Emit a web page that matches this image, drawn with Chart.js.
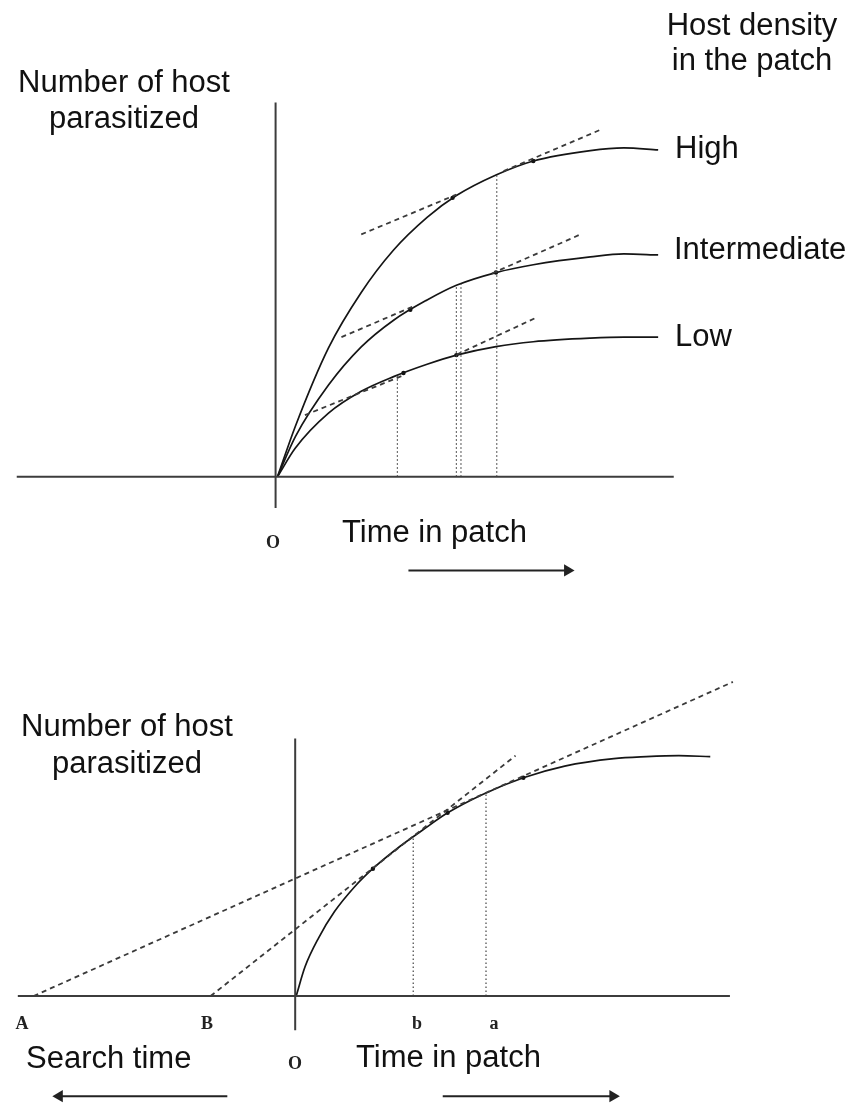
<!DOCTYPE html>
<html>
<head>
<meta charset="utf-8">
<script src="https://cdn.jsdelivr.net/npm/chart.js@4.4.1/dist/chart.umd.min.js"></script>
<style>
  body { margin: 0; background: #fff; }
  #page { position: relative; width: 853px; height: 1112px; overflow: hidden; background: #fff; }
  canvas { position: absolute; left: 0; }
  .lbl { position: absolute; font-family: "Liberation Sans", Arial, sans-serif; font-size: 31px; line-height: 36px; color: #111; white-space: nowrap; }
  .ser { position: absolute; font-family: "Liberation Serif", "Times New Roman", serif; font-weight: bold; font-size: 18px; line-height: 20px; color: #222; white-space: nowrap; }
</style>
</head>
<body>
<div id="page">
  <canvas id="topChart" width="853" height="600" style="top:0"></canvas>
  <canvas id="bottomChart" width="853" height="512" style="top:600px"></canvas>
</div>
<script>
// ---- top panel: parasitized hosts vs time in patch, three host densities ----
const timeTop = [0, 0.47, 1.34, 2.20, 3.05, 3.93, 4.70, 5.74, 6.72, 8.22, 9.10, 10.0];
const highDensity = [0, 1.55, 3.95, 5.65, 6.95, 7.95, 8.62, 9.25, 9.68, 10.0, 10.08, 10.02];
const intermediateDensity = [0, 1.23, 2.81, 3.98, 4.80, 5.42, 5.87, 6.26, 6.50, 6.74, 6.83, 6.80];
const lowDensity = [0, 0.88, 1.95, 2.62, 3.07, 3.45, 3.73, 3.99, 4.14, 4.25, 4.28, 4.28];
const densityNames = ['High', 'Intermediate', 'Low'];

// tangent segments [x0, y0, x1, y1]
const tangentsTop = [
    [2.20, 7.43, 4.70, 8.65],
    [5.94, 9.37, 8.53, 10.66],
    [1.68, 4.28, 3.54, 5.21],
    [5.63, 6.23, 7.96, 7.43],
    [0.72, 1.89, 3.31, 3.11],
    [4.70, 3.74, 6.80, 4.88]
];
// leaving times (dotted drops to the axis) [x, y on curve]
const leaveTop = [[3.15, 3.10], [4.70, 5.87], [4.82, 5.92], [5.76, 9.25]];
const touchTop = [[4.60, 8.55], [6.72, 9.68], [3.49, 5.12], [5.74, 6.26], [3.31, 3.18], [4.70, 3.73]];

// ---- bottom panel: single gain curve with search-time lines ----
const timeBottom = [0, 0.225, 0.575, 0.975, 1.475, 1.975, 2.65, 3.225, 3.85, 4.725, 5.775, 6.825, 8.075, 8.9, 9.725, 10.525];
const gainBottom = [0, 0.90, 1.80, 2.60, 3.35, 3.95, 4.62, 5.12, 5.64, 6.20, 6.72, 7.08, 7.31, 7.37, 7.40, 7.37];
const searchLines = [
    [-6.675, 0, 11.1, 9.67],   // from A
    [-2.175, 0, 5.575, 7.40]   // from B
];
const leaveBottom = [[2.975, 4.92], [4.825, 6.25]]; // b, a
const touchBottom = [[1.95, 3.92], [3.85, 5.64], [5.775, 6.72]];

function pts(xs, ys) {
    return xs.map((x, i) => ({ x: x, y: ys[i] }));
}

function curve(xs, ys) {
    return {
        data: pts(xs, ys),
        showLine: true,
        borderColor: '#151515',
        borderWidth: 1.7,
        pointRadius: 0,
        cubicInterpolationMode: 'monotone'
    };
}

function seg(s, style) {
    return Object.assign({
        data: [{ x: s[0], y: s[1] }, { x: s[2], y: s[3] }],
        showLine: true,
        borderColor: '#333',
        borderWidth: 2,
        pointRadius: 0
    }, style || {});
}

const dashed = { borderDash: [5, 4], borderColor: '#3a3a3a', borderWidth: 1.8 };
const dotted = { borderDash: [1.5, 2.5], borderColor: '#444', borderWidth: 1.2 };
const axisStyle = { borderColor: '#3c3c3c', borderWidth: 2 };

function dots(list) {
    return {
        data: list.map(p => ({ x: p[0], y: p[1] })),
        pointRadius: 2.2,
        pointBackgroundColor: '#111',
        pointBorderWidth: 0,
        showLine: false
    };
}

// arrow: line with a triangle head at the second point
function arrow(x0, x1, y, dir) {
    return {
        data: [{ x: x0, y: y }, { x: x1, y: y }],
        showLine: true,
        borderColor: '#222',
        borderWidth: 2,
        pointRadius: [0, 7],
        pointStyle: 'triangle',
        pointRotation: dir > 0 ? 90 : -90,
        pointBackgroundColor: '#222',
        pointBorderWidth: 0
    };
}

function makeChart(id, bounds, datasets) {
    return new Chart(document.getElementById(id), {
        type: 'scatter',
        data: { datasets: datasets },
        options: {
            responsive: false,
            animation: false,
            devicePixelRatio: 1,
            events: [],
            layout: { padding: 0 },
            plugins: { legend: { display: false }, tooltip: { enabled: false } },
            scales: {
                x: { type: 'linear', display: false, min: bounds[0], max: bounds[1] },
                y: { type: 'linear', display: false, min: bounds[2], max: bounds[3] }
            }
        }
    });
}

// top chart
const topSets = [
    seg([-6.85, 0, 10.41, 0], axisStyle),
    seg([-0.05, -0.96, -0.05, 11.47], axisStyle)
];
leaveTop.forEach(p => topSets.push(seg([p[0], 0, p[0], p[1]], dotted)));
tangentsTop.forEach(t => topSets.push(seg(t, dashed)));
topSets.push(curve(timeTop, highDensity));
topSets.push(curve(timeTop, intermediateDensity));
topSets.push(curve(timeTop, lowDensity));
topSets.push(dots(touchTop));
topSets.push(arrow(3.44, 7.62, -2.87, 1));
makeChart('topChart', [-7.106, 14.935, -3.563, 14.401], topSets);

// bottom chart
const bottomSets = [
    seg([-7.075, 0, 11.025, 0], axisStyle),
    seg([-0.025, -1.05, -0.025, 7.93], axisStyle)
];
leaveBottom.forEach(p => bottomSets.push(seg([p[0], 0, p[0], p[1]], dotted)));
searchLines.forEach(s => bottomSets.push(seg(s, dashed)));
bottomSets.push(curve(timeBottom, gainBottom));
bottomSets.push(dots(touchBottom));
bottomSets.push(arrow(-1.75, -6.02, -3.08, -1));
bottomSets.push(arrow(3.725, 8.05, -3.08, 1));
makeChart('bottomChart', [-7.35, 13.975, -3.353, 11.976], bottomSets);

// text labels
const page = document.getElementById('page');
function label(text, x, y, cls, align) {
    const d = document.createElement('div');
    d.className = cls;
    d.textContent = text;
    d.style.left = x + 'px';
    d.style.top = y + 'px';
    d.style.transform = align === 'left' ? 'translate(0,-50%)' : 'translate(-50%,-50%)';
    if (align !== 'left') d.style.textAlign = 'center';
    page.appendChild(d);
}

label('Number of host', 124, 82, 'lbl');
label('parasitized', 124, 118, 'lbl');
label('Host density', 752, 25, 'lbl');
label('in the patch', 752, 60, 'lbl');
label(densityNames[0], 675, 148, 'lbl', 'left');
label(densityNames[1], 674, 249, 'lbl', 'left');
label(densityNames[2], 675, 336, 'lbl', 'left');
label('O', 273, 542, 'ser');
label('Time in patch', 342, 532, 'lbl', 'left');

label('Number of host', 127, 726, 'lbl');
label('parasitized', 127, 763, 'lbl');
label('A', 22, 1023, 'ser');
label('B', 207, 1023, 'ser');
label('b', 417, 1023, 'ser');
label('a', 494, 1023, 'ser');
label('O', 295, 1063, 'ser');
label('Search time', 26, 1058, 'lbl', 'left');
label('Time in patch', 356, 1057, 'lbl', 'left');
</script>
</body>
</html>
